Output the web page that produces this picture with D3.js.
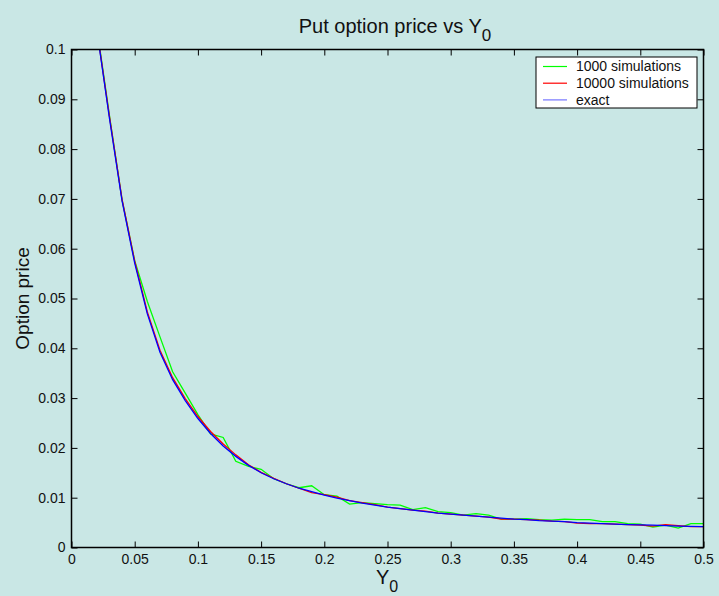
<!DOCTYPE html>
<html>
<head>
<meta charset="utf-8">
<script src="https://cdn.jsdelivr.net/npm/d3@7"></script>
<style>
  body { margin: 0; background: #c9e7e5; }
  svg { display: block; font-family: "Liberation Sans", Arial, sans-serif; }
</style>
</head>
<body>
<div id="chart"></div>
<script>
const y0Values = [0.02, 0.03, 0.04, 0.05, 0.06, 0.07, 0.08, 0.09, 0.10, 0.11,
  0.12, 0.13, 0.14, 0.15, 0.16, 0.17, 0.18, 0.19, 0.20, 0.21,
  0.22, 0.23, 0.24, 0.25, 0.26, 0.27, 0.28, 0.29, 0.30, 0.31,
  0.32, 0.33, 0.34, 0.35, 0.36, 0.37, 0.38, 0.39, 0.40, 0.41,
  0.42, 0.43, 0.44, 0.45, 0.46, 0.47, 0.48, 0.49, 0.50];

const sim1000 = [0.1045, 0.0868, 0.0698, 0.0576, 0.0494, 0.0423, 0.0353, 0.0310, 0.0267, 0.0228,
  0.0221, 0.0173, 0.0163, 0.0157, 0.0138, 0.0128, 0.0120, 0.0124, 0.0106, 0.0103,
  0.0087, 0.0090, 0.0088, 0.0086, 0.0085, 0.0076, 0.0080, 0.0072, 0.0070, 0.0065,
  0.0068, 0.0065, 0.0057, 0.0057, 0.0058, 0.0056, 0.0055, 0.0057, 0.0056, 0.0056,
  0.0052, 0.0052, 0.0048, 0.0047, 0.0041, 0.0045, 0.0039, 0.0048, 0.0048];

const sim10000 = [0.1042, 0.0866, 0.0699, 0.0575, 0.0473, 0.0396, 0.0341, 0.0299, 0.0263, 0.0233,
  0.0208, 0.0186, 0.0166, 0.0151, 0.0139, 0.0128, 0.0119, 0.0110, 0.0106, 0.0101,
  0.0094, 0.0090, 0.0086, 0.0081, 0.0078, 0.0075, 0.0073, 0.0069, 0.0067, 0.0065,
  0.0063, 0.0061, 0.0057, 0.0057, 0.0056, 0.0055, 0.0053, 0.0052, 0.0049, 0.0048,
  0.0048, 0.0047, 0.0046, 0.0045, 0.0043, 0.0046, 0.0044, 0.0042, 0.0042];

const exact = [0.1040, 0.0862, 0.0696, 0.0571, 0.0469, 0.0392, 0.0337, 0.0295, 0.0259, 0.0229,
  0.0204, 0.0183, 0.0165, 0.0150, 0.0138, 0.0128, 0.0119, 0.0112, 0.0105, 0.0099,
  0.0094, 0.0089, 0.0085, 0.0081, 0.0078, 0.0075, 0.0072, 0.0069, 0.0067, 0.0065,
  0.0063, 0.0061, 0.0059, 0.0057, 0.0056, 0.0054, 0.0053, 0.0052, 0.0050, 0.0049,
  0.0048, 0.0047, 0.0046, 0.00455, 0.0045, 0.0044, 0.0043, 0.00425, 0.0042];

const xTicks = [0, 0.05, 0.1, 0.15, 0.2, 0.25, 0.3, 0.35, 0.4, 0.45, 0.5];
const yTicks = [0, 0.01, 0.02, 0.03, 0.04, 0.05, 0.06, 0.07, 0.08, 0.09, 0.1];

const seriesNames = ['1000 simulations', '10000 simulations', 'exact'];
const seriesColors = ['#00ff00', '#ff0000', '#0000ff'];
const legendColors = ['#00ff00', '#ff0000', '#7575ff'];

const width = 719;
const height = 596;
const margin = {top: 49.5, right: 15.5, bottom: 48.5, left: 71.5};
const tickLen = 6;

const svg = d3.select('#chart').append('svg')
  .attr('width', width)
  .attr('height', height);

svg.append('rect')
  .attr('width', width)
  .attr('height', height)
  .attr('fill', '#c9e7e5');

const x = d3.scaleLinear()
  .domain([0, 0.5])
  .range([margin.left, width - margin.right]);

const y = d3.scaleLinear()
  .domain([0, 0.1])
  .range([height - margin.bottom, margin.top]);

const fmt = d => String(+d.toFixed(3));

svg.append('defs').append('clipPath')
  .attr('id', 'plot-clip')
  .append('rect')
  .attr('x', margin.left)
  .attr('y', margin.top)
  .attr('width', width - margin.left - margin.right)
  .attr('height', height - margin.top - margin.bottom);

// series
const allSeries = [sim1000, sim10000, exact];
const line = d3.line()
  .x((d, i) => x(y0Values[i]))
  .y(d => y(d));

svg.append('g')
  .attr('clip-path', 'url(#plot-clip)')
  .selectAll('path')
  .data(allSeries)
  .join('path')
  .attr('fill', 'none')
  .attr('stroke', (d, i) => seriesColors[i])
  .attr('stroke-width', 1.3)
  .attr('d', line);

// axes, ticks pointing inward on all four sides
const styleAxis = g => g
  .call(g => g.select('.domain').remove())
  .call(g => g.selectAll('.tick line').attr('stroke', '#000').attr('stroke-width', 1))
  .call(g => g.selectAll('.tick text').attr('fill', '#111').attr('font-size', 14));

svg.append('g')
  .attr('transform', `translate(0,${height - margin.bottom})`)
  .call(d3.axisBottom(x).tickValues(xTicks).tickFormat(fmt).tickSizeInner(-tickLen).tickSizeOuter(0).tickPadding(7))
  .call(styleAxis);

svg.append('g')
  .attr('transform', `translate(0,${margin.top})`)
  .call(d3.axisTop(x).tickValues(xTicks).tickFormat('').tickSizeInner(-tickLen).tickSizeOuter(0))
  .call(styleAxis);

svg.append('g')
  .attr('transform', `translate(${margin.left},0)`)
  .call(d3.axisLeft(y).tickValues(yTicks).tickFormat(fmt).tickSizeInner(-tickLen).tickSizeOuter(0).tickPadding(6))
  .call(styleAxis);

svg.append('g')
  .attr('transform', `translate(${width - margin.right},0)`)
  .call(d3.axisRight(y).tickValues(yTicks).tickFormat('').tickSizeInner(-tickLen).tickSizeOuter(0))
  .call(styleAxis);

svg.append('rect')
  .attr('x', margin.left)
  .attr('y', margin.top)
  .attr('width', width - margin.left - margin.right)
  .attr('height', height - margin.top - margin.bottom)
  .attr('fill', 'none')
  .attr('stroke', '#000')
  .attr('stroke-width', 1.5);

// title and labels
const title = svg.append('text')
  .attr('x', 395)
  .attr('y', 33)
  .attr('text-anchor', 'middle')
  .attr('font-size', 20)
  .attr('fill', '#111');
title.append('tspan').text('Put option price vs Y');
title.append('tspan').attr('dy', 8).attr('font-size', 17).text('0');

const xLabel = svg.append('text')
  .attr('x', 387)
  .attr('y', 584)
  .attr('text-anchor', 'middle')
  .attr('font-size', 20)
  .attr('fill', '#111');
xLabel.append('tspan').text('Y');
xLabel.append('tspan').attr('dy', 8).attr('font-size', 16).text('0');

svg.append('text')
  .attr('transform', `translate(29,${(margin.top + height - margin.bottom) / 2}) rotate(-90)`)
  .attr('text-anchor', 'middle')
  .attr('font-size', 19)
  .attr('fill', '#111')
  .text('Option price');

// legend
const legend = svg.append('g')
  .attr('transform', 'translate(536,57)');

legend.append('rect')
  .attr('width', 161)
  .attr('height', 51)
  .attr('fill', '#fff')
  .attr('stroke', '#000')
  .attr('stroke-width', 1);

const rows = legend.selectAll('g')
  .data(seriesNames)
  .join('g')
  .attr('transform', (d, i) => `translate(0,${9.5 + i * 16.7})`);

rows.append('line')
  .attr('x1', 7)
  .attr('x2', 31)
  .attr('stroke', (d, i) => legendColors[i])
  .attr('stroke-width', 1.2);

rows.append('text')
  .attr('x', 40)
  .attr('dy', '0.35em')
  .attr('font-size', 14)
  .attr('fill', '#111')
  .text(d => d);
</script>
</body>
</html>
